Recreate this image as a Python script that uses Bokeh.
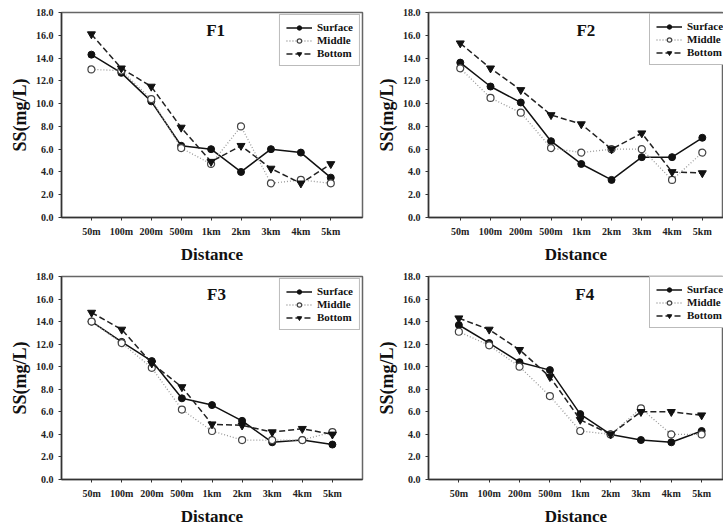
from bokeh.plotting import figure
from bokeh.layouts import gridplot
from bokeh.models import Label, Range1d, FixedTicker, Legend, LegendItem
from bokeh.embed import file_html
from bokeh.resources import INLINE

distances = ["50m", "100m", "200m", "500m", "1km", "2km", "3km", "4km", "5km"]
panels = ["F1", "F2", "F3", "F4"]

f1_surface = [14.3, 12.7, 10.2, 6.3, 6.0, 4.0, 6.0, 5.7, 3.5]
f1_middle = [13.0, 12.9, 10.4, 6.1, 4.7, 8.0, 3.0, 3.3, 3.0]
f1_bottom = [16.1, 13.1, 11.5, 7.9, 4.9, 6.3, 4.3, 3.0, 4.7]

f2_surface = [13.6, 11.5, 10.1, 6.7, 4.7, 3.3, 5.3, 5.3, 7.0]
f2_middle = [13.1, 10.5, 9.2, 6.1, 5.7, 6.0, 6.0, 3.3, 5.7]
f2_bottom = [15.3, 13.1, 11.2, 9.0, 8.2, 6.0, 7.4, 4.0, 3.9]

f3_surface = [14.0, 12.2, 10.5, 7.2, 6.6, 5.2, 3.3, 3.5, 3.1]
f3_middle = [14.0, 12.1, 9.9, 6.2, 4.3, 3.5, 3.5, 3.5, 4.2]
f3_bottom = [14.8, 13.3, 10.3, 8.2, 4.9, 4.8, 4.2, 4.5, 4.0]

f4_surface = [13.7, 12.1, 10.4, 9.7, 5.8, 4.0, 3.5, 3.3, 4.3]
f4_middle = [13.1, 11.9, 10.0, 7.4, 4.3, 4.0, 6.3, 4.0, 4.0]
f4_bottom = [14.3, 13.3, 11.5, 9.1, 5.3, 4.0, 6.0, 6.0, 5.7]

series_names = ["Surface", "Middle", "Bottom"]
y_ticks = [0, 2, 4, 6, 8, 10, 12, 14, 16, 18]

FONT = "Liberation Serif"
data = [
    (f1_surface, f1_middle, f1_bottom),
    (f2_surface, f2_middle, f2_bottom),
    (f3_surface, f3_middle, f3_bottom),
    (f4_surface, f4_middle, f4_bottom),
]

layout_cfg = [
    dict(width=366, height=268, bl=61, br=3, bt=12, bb=51, xr=(-1.0, 9.06),
         leg="top_right"),
    dict(width=357, height=268, bl=62, br=0, bt=12, bb=51, xr=(-1.05, 8.7),
         leg=(221, 152)),
    dict(width=366, height=260, bl=59, br=4, bt=8, bb=46, xr=(-1.0, 9.0),
         leg="top_right"),
    dict(width=357, height=260, bl=62, br=0, bt=8, bb=46, xr=(-1.0, 8.72),
         leg=(221, 151)),
]


def make_panel(idx):
    cfg = layout_cfg[idx]
    surf, mid, bot = data[idx]
    xs = list(range(len(distances)))
    p = figure(width=cfg["width"], height=cfg["height"], output_backend="svg",
               toolbar_location=None, x_range=Range1d(*cfg["xr"]),
               y_range=Range1d(0, 18))
    p.min_border_left = cfg["bl"]
    p.min_border_right = cfg["br"]
    p.min_border_top = cfg["bt"]
    p.min_border_bottom = cfg["bb"]
    p.grid.visible = False
    p.outline_line_color = "#666666"
    p.outline_line_width = 1.5
    p.background_fill_color = "white"
    p.border_fill_color = "white"

    p.xaxis.ticker = FixedTicker(ticks=xs)
    p.xaxis.major_label_overrides = {i: d for i, d in enumerate(distances)}
    p.yaxis.ticker = FixedTicker(ticks=y_ticks)
    p.yaxis.major_label_overrides = {t: "%.1f" % t for t in y_ticks}
    for ax in (p.xaxis[0], p.yaxis[0]):
        ax.axis_line_color = "#333333"
        ax.axis_line_width = 1.5
        ax.major_tick_line_color = "#333333"
        ax.major_tick_in = 0
        ax.major_tick_out = 3
        ax.minor_tick_line_color = None
        ax.major_label_text_font = FONT
        ax.major_label_text_font_style = "bold"
        ax.major_label_text_font_size = "10px"
        ax.major_label_text_color = "#222222"
        ax.axis_label_text_font = FONT
        ax.axis_label_text_font_style = "bold"
        ax.axis_label_text_color = "#111111"
    p.xaxis.axis_label = "Distance"
    p.xaxis.axis_label_text_font_size = "17px"
    p.xaxis.major_label_standoff = 5
    p.xaxis.axis_label_standoff = 5
    p.yaxis.axis_label = "SS(mg/L)"
    p.yaxis.axis_label_text_font_size = "18px"
    p.yaxis.major_label_standoff = 5
    p.yaxis.axis_label_standoff = 3

    l1 = p.line(xs, surf, line_color="#111111", line_width=1.5)
    m1 = p.scatter(xs, surf, marker="circle", size=7, fill_color="#111111",
                   line_color="#111111")
    l2 = p.line(xs, mid, line_color="#9a9a9a", line_width=1.3, line_dash="1 2")
    m2 = p.scatter(xs, mid, marker="circle", size=7, fill_color="white",
                   line_color="#444444", line_width=1.2)
    l3 = p.line(xs, bot, line_color="#222222", line_width=1.5, line_dash="6 3")
    m3 = p.scatter(xs, bot, marker="inverted_triangle", size=8,
                   fill_color="#111111", line_color="#111111")

    legend = Legend(items=[
        LegendItem(label=series_names[0], renderers=[l1, m1]),
        LegendItem(label=series_names[1], renderers=[l2, m2]),
        LegendItem(label=series_names[2], renderers=[l3, m3]),
    ], location=cfg["leg"])
    legend.label_text_font = FONT
    legend.label_text_font_style = "bold"
    legend.label_text_font_size = "11px"
    legend.label_text_color = "#111111"
    legend.glyph_width = 26
    legend.glyph_height = 11
    legend.label_height = 11
    legend.spacing = 1
    legend.padding = 6
    legend.margin = 2
    legend.label_standoff = 5
    legend.border_line_color = "#777777"
    legend.border_line_width = 1.5
    legend.background_fill_color = "white"
    legend.background_fill_alpha = 1.0
    p.add_layout(legend)

    p.add_layout(Label(x=4.15, y=16.4, text=panels[idx], text_font=FONT,
                       text_font_style="bold", text_font_size="17px",
                       text_align="center", text_baseline="middle",
                       text_color="#111111"))
    return p


plots = [make_panel(i) for i in range(4)]
grid = gridplot([[plots[0], plots[1]], [plots[2], plots[3]]],
                toolbar_location=None)

open("out.html", "w").write(file_html(grid, INLINE))
